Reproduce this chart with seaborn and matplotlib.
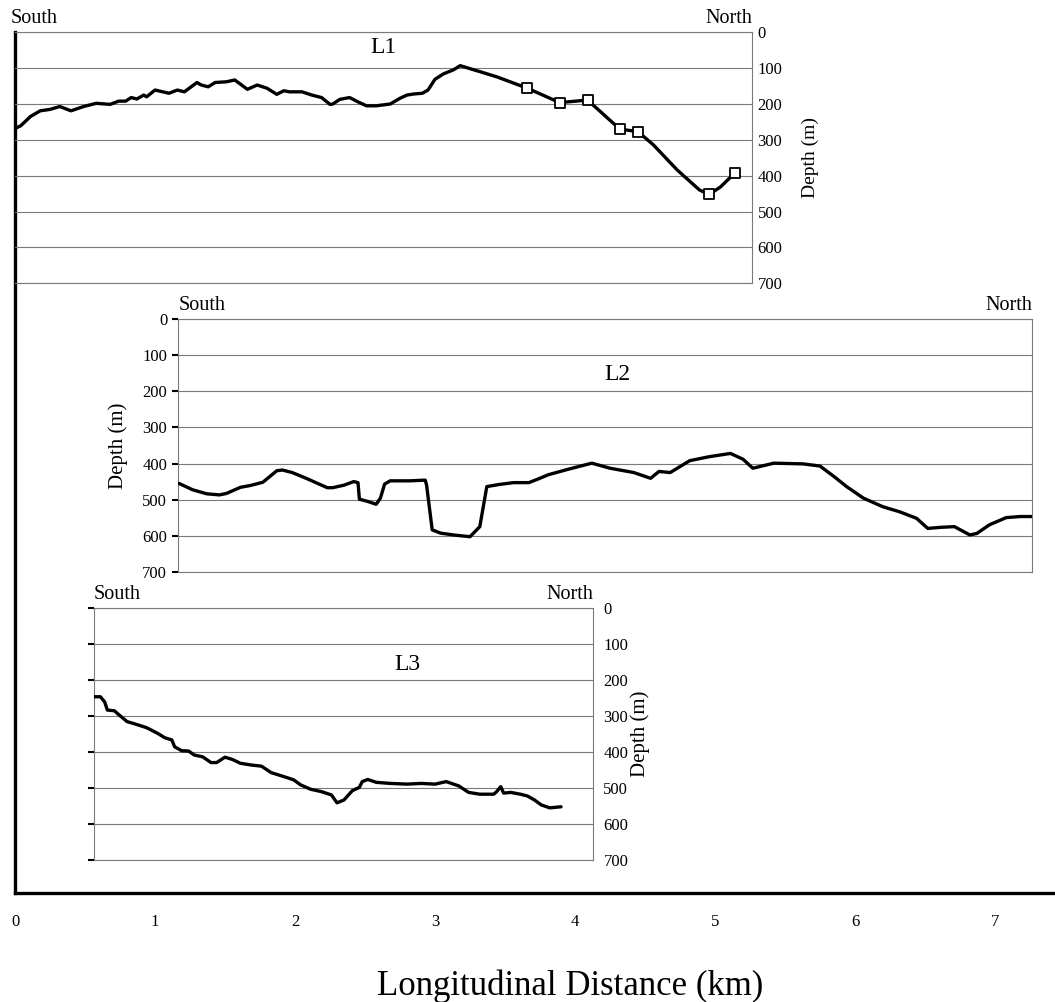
import matplotlib
matplotlib.use("Agg")
import matplotlib.pyplot as plt
import numpy as np
import pandas as pd
import seaborn as sns

# ---------------- data (km along the outer axis, depth in m) ----------------
L1_km = [0.00, 0.04, 0.11, 0.18, 0.25, 0.32, 0.40, 0.49, 0.58, 0.68, 0.74, 0.79,
         0.83, 0.87, 0.92, 0.94, 1.00, 1.10, 1.16, 1.21, 1.30, 1.33, 1.38, 1.43,
         1.51, 1.57, 1.66, 1.73, 1.80, 1.87, 1.92, 1.96, 2.05, 2.12, 2.19, 2.25,
         2.27, 2.32, 2.39, 2.45, 2.51, 2.58, 2.68, 2.75, 2.80, 2.85, 2.91, 2.95,
         3.00, 3.06, 3.13, 3.18, 3.44, 3.66, 3.89, 4.09, 4.32, 4.45, 4.56, 4.73,
         4.89, 4.96, 5.04, 5.14]
L1_depth = [268, 261, 235, 219, 215, 207, 219, 207, 198, 201, 192, 192,
            182, 186, 175, 180, 161, 170, 161, 166, 140, 147, 152, 140,
            138, 133, 159, 147, 156, 173, 163, 166, 166, 175, 182, 201,
            200, 187, 182, 194, 205, 205, 200, 184, 175, 172, 170, 161,
            131, 116, 105, 93, 124, 156, 196, 189, 270, 277, 314, 384,
            440, 452, 431, 393]
L1_marker_km = [3.66, 3.89, 4.09, 4.32, 4.45, 4.96, 5.14]
L1_marker_depth = [156, 196, 189, 270, 277, 452, 393]

L2_km = [1.17, 1.27, 1.37, 1.46, 1.51, 1.61, 1.68, 1.77, 1.82, 1.87, 1.91, 1.98,
         2.08, 2.23, 2.27, 2.35, 2.42, 2.45, 2.46, 2.51, 2.58, 2.61, 2.64, 2.68,
         2.75, 2.82, 2.93, 2.94, 2.98, 3.04, 3.13, 3.25, 3.32, 3.37, 3.46, 3.56,
         3.67, 3.73, 3.81, 3.96, 4.12, 4.25, 4.42, 4.54, 4.60, 4.68, 4.82, 4.96,
         5.11, 5.20, 5.27, 5.42, 5.63, 5.75, 5.85, 5.94, 6.06, 6.20, 6.32, 6.44,
         6.52, 6.61, 6.71, 6.82, 6.87, 6.96, 7.08, 7.18, 7.27]
L2_depth = [455, 473, 484, 487, 483, 466, 461, 452, 436, 420, 418, 425,
            441, 467, 467, 460, 450, 453, 499, 504, 513, 496, 457, 448,
            448, 448, 446, 460, 584, 593, 598, 603, 575, 464, 458, 453,
            453, 444, 431, 415, 399, 413, 425, 441, 422, 425, 392, 381,
            372, 388, 413, 399, 401, 407, 436, 464, 496, 520, 534, 552,
            580, 577, 575, 598, 594, 570, 550, 547, 547]

L3_km = [0.56, 0.61, 0.64, 0.66, 0.71, 0.73, 0.80, 0.86, 0.94, 1.02, 1.07, 1.12,
         1.14, 1.19, 1.24, 1.28, 1.34, 1.40, 1.44, 1.50, 1.55, 1.61, 1.69, 1.76,
         1.83, 1.92, 1.99, 2.04, 2.11, 2.19, 2.26, 2.30, 2.35, 2.41, 2.46, 2.48,
         2.52, 2.58, 2.68, 2.80, 2.90, 3.00, 3.08, 3.17, 3.24, 3.32, 3.42, 3.44,
         3.47, 3.49, 3.54, 3.61, 3.66, 3.71, 3.76, 3.82, 3.90]
L3_depth = [246, 246, 260, 283, 285, 292, 315, 322, 332, 348, 360, 366,
            385, 396, 397, 408, 413, 429, 429, 414, 420, 431, 436, 439,
            457, 468, 477, 491, 503, 510, 519, 541, 533, 507, 498, 482,
            476, 484, 487, 489, 487, 489, 482, 494, 512, 517, 517, 510,
            496, 514, 512, 517, 522, 533, 547, 555, 552]

depth_ticks = [0, 100, 200, 300, 400, 500, 600, 700]
x_ticks = [0, 1, 2, 3, 4, 5, 6, 7]
x_minor_ticks = [0.5, 1.5, 2.5, 3.5, 4.5, 5.5, 6.5]
panel_names = ["L1", "L2", "L3"]

# ---------------- style ----------------
sns.set_style("white")
plt.rcParams["font.family"] = ["Liberation Serif", "DejaVu Serif"]
plt.rcParams["text.color"] = "black"
plt.rcParams["axes.labelcolor"] = "black"
plt.rcParams["xtick.color"] = "black"
plt.rcParams["ytick.color"] = "black"

W, H = 1055, 1002
fig = plt.figure(figsize=(W / 100, H / 100), dpi=100)

X0 = 15.0        # pixel of 0 km
PXKM = 140.0     # pixels per km
XMAX = (W - X0) / PXKM


def rect(km0, km1, top_px, bot_px):
    l = X0 + km0 * PXKM
    r = X0 + km1 * PXKM
    return [l / W, 1 - bot_px / H, (r - l) / W, (bot_px - top_px) / H]


# ---------------- outer axis ----------------
ax = fig.add_axes(rect(0, XMAX, 32, 893))
ax.set_xlim(0, XMAX)
ax.set_ylim(0, 1)
ax.set_facecolor("none")
for s in ["top", "right"]:
    ax.spines[s].set_visible(False)
for s in ["left", "bottom"]:
    ax.spines[s].set_linewidth(2.4)
    ax.spines[s].set_color("black")
ax.set_yticks([])
ax.set_xticks(x_ticks)
ax.set_xticks(x_minor_ticks, minor=True)
ax.set_xticklabels([str(v) for v in x_ticks], fontsize=12)
ax.tick_params(axis="x", which="both", direction="in", length=5, width=1.8, pad=15)
ax.set_xlabel("Longitudinal Distance (km)", fontsize=25, va="center")
ax.xaxis.set_label_coords((570 - X0) / (W - X0), (893 - 986) / (893 - 32))

GRID = "#7a7a7a"


def panel(km0, km1, top_px, bot_px, name, lx, ly, df, south_off, north_off):
    a = fig.add_axes(rect(km0, km1, top_px, bot_px))
    a.set_facecolor("none")
    sns.lineplot(data=df, x="km", y="depth", ax=a, color="black", lw=2.4,
                 estimator=None, sort=False, solid_joinstyle="round",
                 solid_capstyle="round", zorder=4)
    a.set_xlim(km0, km1)
    a.set_ylim(700, 0)
    a.set_yticks(depth_ticks)
    a.set_xticks([])
    a.set_xlabel("")
    a.yaxis.grid(True, color=GRID, lw=0.8)
    a.xaxis.grid(False)
    for s in a.spines.values():
        s.set_color(GRID)
        s.set_linewidth(0.8)
    a.text(lx, ly, name, ha="center", va="center", fontsize=17)
    hpx = bot_px - top_px
    wpx = (km1 - km0) * PXKM
    a.text(south_off / wpx, 1 + 14 / hpx, "South", transform=a.transAxes,
           ha="left", va="center", fontsize=14.5)
    a.text(1 + north_off / wpx, 1 + 14 / hpx, "North", transform=a.transAxes,
           ha="right", va="center", fontsize=14.5)
    return a, wpx


# L1
df1 = pd.DataFrame({"km": L1_km, "depth": L1_depth})
a1, w1 = panel(0, (752 - X0) / PXKM, 32.3, 283.3, panel_names[0], 2.63, 41, df1, -4, 0)
sns.scatterplot(x=L1_marker_km, y=L1_marker_depth, ax=a1, marker="s", s=50,
                color="white", edgecolor="black", linewidth=1.3, zorder=5)
a1.spines["left"].set_visible(False)
a1.tick_params(axis="y", left=False, right=False, labelleft=False, labelright=True,
               length=0, pad=4, labelsize=12)
a1.yaxis.set_label_position("right")
a1.set_ylabel("Depth (m)", fontsize=14, va="center")
a1.yaxis.set_label_coords((810 - X0) / w1, 0.5)

# L2
df2 = pd.DataFrame({"km": L2_km, "depth": L2_depth})
a2, w2 = panel((178.3 - X0) / PXKM, (1032.3 - X0) / PXKM, 319.3, 571.7,
               panel_names[1], 4.30, 154, df2, 0, 0)
a2.tick_params(axis="y", left=True, right=False, labelleft=True, labelright=False,
               length=4, width=1.5, color="black", pad=4, labelsize=12)
a2.set_ylabel("Depth (m)", fontsize=15, va="center")
a2.yaxis.set_label_coords((118 - 178.3) / w2, 0.5)

# L3
df3 = pd.DataFrame({"km": L3_km, "depth": L3_depth})
a3, w3 = panel((93.8 - X0) / PXKM, (593 - X0) / PXKM, 608.3, 860,
               panel_names[2], 2.80, 155, df3, 0, 0)
a3.tick_params(axis="y", left=True, right=False, labelleft=False, labelright=True,
               length=4, width=1.5, color="black", pad=3.5, labelsize=12)
a3.yaxis.set_label_position("right")
a3.set_ylabel("Depth (m)", fontsize=15, va="center")
a3.yaxis.set_label_coords((640 - 93.8) / w3, 0.5)

fig.savefig("out.png", dpi=100)
